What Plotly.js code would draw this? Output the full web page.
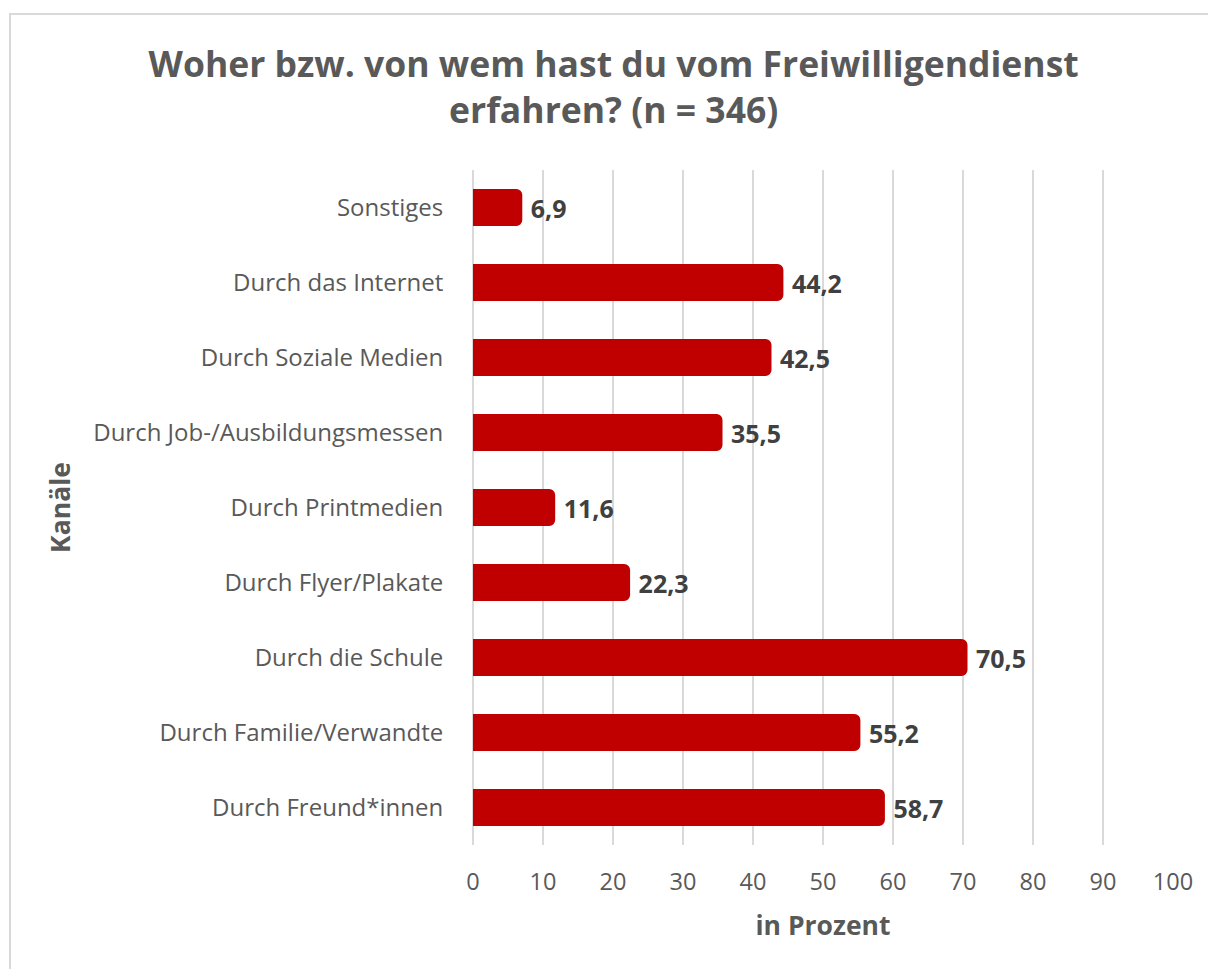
<!DOCTYPE html>
<html>
<head>
<meta charset="utf-8">
<script src="https://cdn.plot.ly/plotly-3.0.1.min.js"></script>
<style>
  html, body { margin: 0; padding: 0; background: #fff; }
  #wrap { position: relative; width: 1208px; height: 969px; overflow: hidden; }
  #frame { position: absolute; left: 9px; top: 13px; width: 1300px; height: 1100px; border: 2px solid #d9d9d9; box-sizing: border-box; pointer-events: none; z-index: 2; }
  #chart { position: absolute; left: 0; top: 0; width: 1208px; height: 969px; }
</style>
</head>
<body>
<div id="wrap">
  <div id="chart"></div>
  <div id="frame"></div>
</div>
<script>
const categories = [
  "Durch Freund*innen",
  "Durch Familie/Verwandte",
  "Durch die Schule",
  "Durch Flyer/Plakate",
  "Durch Printmedien",
  "Durch Job-/Ausbildungsmessen",
  "Durch Soziale Medien",
  "Durch das Internet",
  "Sonstiges"
];
const values = [58.7, 55.2, 70.5, 22.3, 11.6, 35.5, 42.5, 44.2, 6.9];
const valueLabels = ["58,7", "55,2", "70,5", "22,3", "11,6", "35,5", "42,5", "44,2", "6,9"];
const xTicks = [0, 10, 20, 30, 40, 50, 60, 70, 80, 90, 100];
const titleText = "Woher bzw. von wem hast du vom Freiwilligendienst<br>erfahren? (n = 346)";
const xTitle = "in Prozent";
const yTitle = "Kanäle";

const FONT = "'Open Sans', sans-serif";

const trace = {
  type: "bar",
  orientation: "h",
  x: values,
  y: categories,
  text: valueLabels,
  textposition: "outside",
  texttemplate: "\u00a0%{text}",
  textfont: { family: FONT, size: 25, color: "#404040", weight: "bold" },
  cliponaxis: false,
  marker: { color: "#c00000", line: { color: "#c00000", width: 2 } },
  hoverinfo: "x+y"
};

const layout = {
  width: 1208,
  height: 969,
  paper_bgcolor: "#ffffff",
  plot_bgcolor: "#ffffff",
  margin: { l: 473, r: 35, t: 170, b: 124 },
  bargap: 0.535,
  barcornerradius: 5,
  showlegend: false,
  font: { family: FONT, color: "#595959", size: 24 },
  title: {
    text: titleText,
    font: { family: FONT, size: 35.5, color: "#595959", weight: "bold" },
    x: 0.508,
    xanchor: "center",
    y: 0.921,
    yanchor: "middle"
  },
  xaxis: {
    range: [0, 100],
    tickvals: xTicks,
    ticktext: xTicks.map(String),
    showgrid: true,
    gridcolor: "#d9d9d9",
    gridwidth: 1.5,
    zeroline: true,
    zerolinecolor: "#d9d9d9",
    zerolinewidth: 1.5,
    showline: false,
    ticks: "outside",
    ticklen: 16,
    tickcolor: "rgba(0,0,0,0)",
    tickfont: { family: FONT, size: 23.5, color: "#595959" },
    fixedrange: true,
    automargin: false,
    title: {
      text: xTitle,
      font: { family: FONT, size: 26.5, color: "#595959", weight: "bold" },
      standoff: 20
    }
  },
  yaxis: {
    type: "category",
    categoryorder: "array",
    categoryarray: categories,
    range: [-0.5, categories.length - 0.5],
    showgrid: false,
    zeroline: false,
    showline: false,
    ticks: "outside",
    ticklen: 24,
    tickcolor: "rgba(0,0,0,0)",
    tickfont: { family: FONT, size: 24, color: "#595959" },
    fixedrange: true,
    automargin: false,
    title: {
      text: yTitle,
      font: { family: FONT, size: 26.5, color: "#595959", weight: "bold" },
      standoff: 14
    }
  }
};

Plotly.newPlot("chart", [trace], layout, { displayModeBar: false, staticPlot: true });
</script>
</body>
</html>
